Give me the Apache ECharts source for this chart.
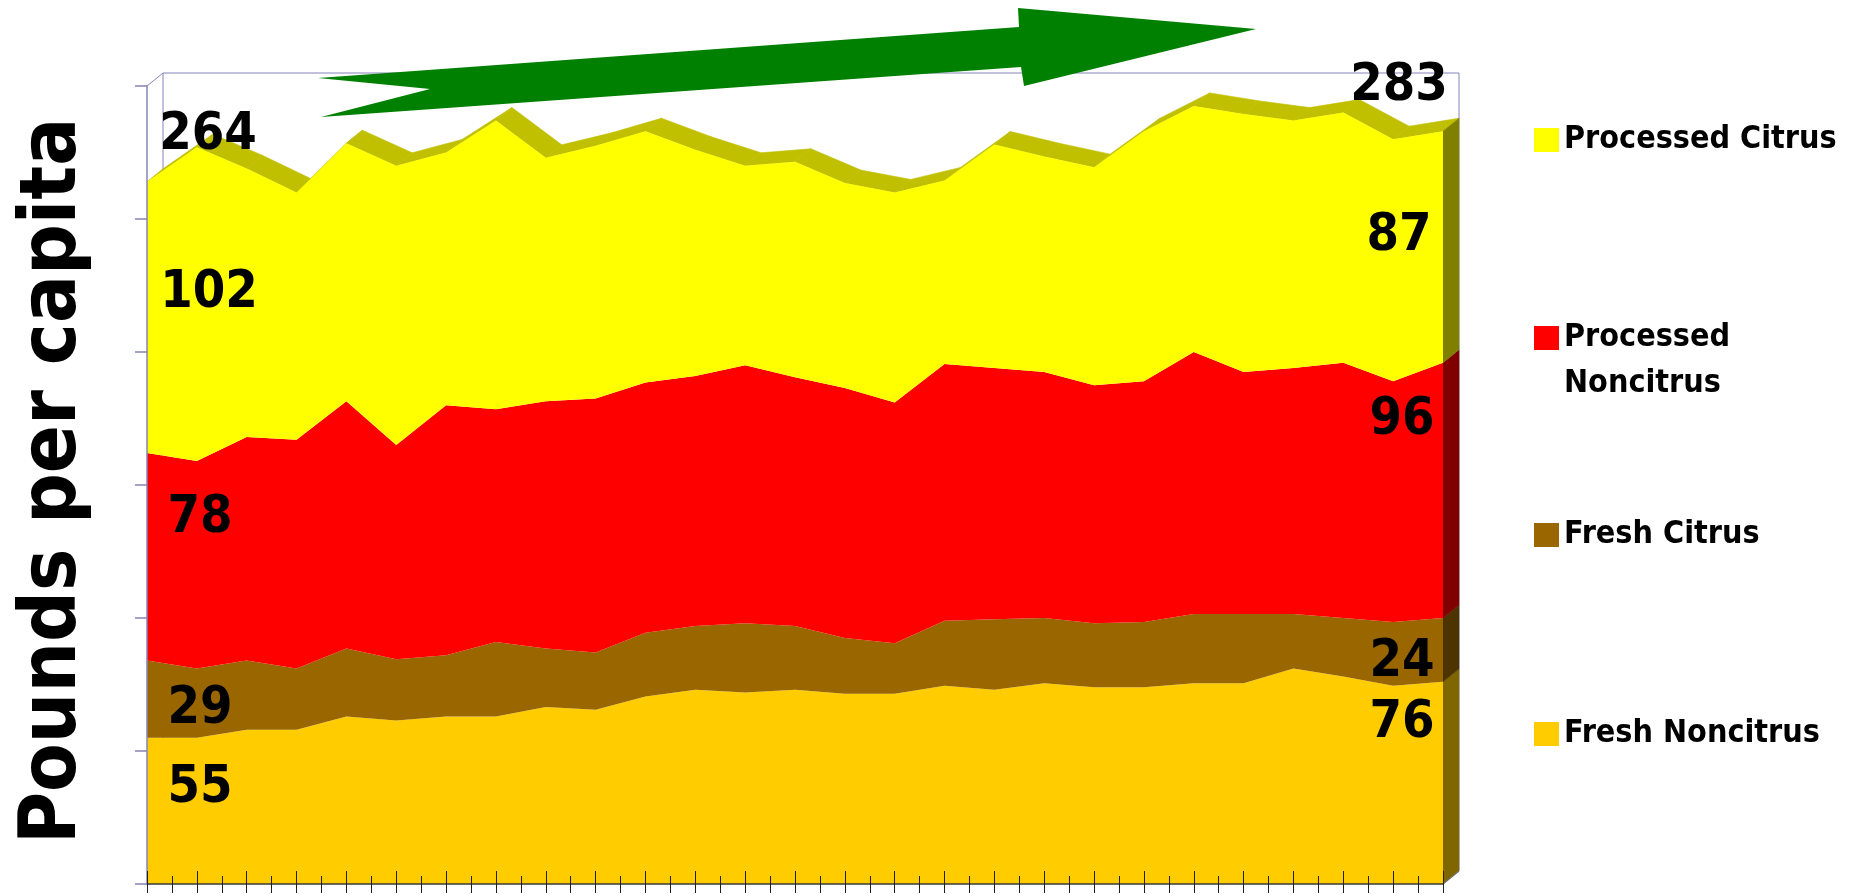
<!DOCTYPE html>
<html>
<head>
<meta charset="utf-8">
<script src="https://cdn.jsdelivr.net/npm/echarts@6/dist/echarts.min.js"></script>
<style>
html,body{margin:0;padding:0;background:#ffffff;}
#chart{width:1858px;height:894px;}
</style>
</head>
<body>
<div id="chart"></div>
<script>
// ---- Data ----
const categories = ['1976','1977','1978','1979','1980','1981','1982','1983','1984','1985','1986','1987','1988','1989',
                    '1990','1991','1992','1993','1994','1995','1996','1997','1998','1999','2000','2001','2002'];
const freshNoncitrus     = [55, 55, 58, 58, 63, 61.5, 63, 63, 66.5, 65.5, 70.5, 73, 72, 73, 71.5, 71.5, 74.5, 73, 75.5, 74, 74, 75.5, 75.5, 81, 78, 74.5, 76];
const freshCitrus        = [29, 26, 26, 23, 25.5, 23, 23, 28, 22, 21.5, 24, 24, 26, 24, 21, 19, 24.5, 26.5, 24.5, 24, 24.5, 26, 26, 20.5, 22, 24, 24];
const processedNoncitrus = [78, 78, 84, 86, 93, 80.5, 94, 87.5, 93, 95.5, 94, 94, 97, 93.5, 94, 90.5, 96.5, 94.5, 92.5, 89.5, 90.5, 98.5, 91, 92.5, 96, 90.5, 96];
const processedCitrus    = [102, 118, 101, 93, 97, 105, 95, 108.5, 91.5, 95, 94.5, 85, 75, 81, 77, 79, 69, 84, 81, 82, 94, 92.5, 97, 93, 94, 91, 87];
const seriesNames = ['Fresh Noncitrus', 'Fresh Citrus', 'Processed Noncitrus', 'Processed Citrus'];
const yTicks = {min: 0, max: 300, interval: 50};
const axisTitle = 'Pounds per capita';

// ---- Styling ----
const layers = [freshNoncitrus, freshCitrus, processedNoncitrus, processedCitrus];
const frontColors = ['#ffcc00', '#996600', '#ff0000', '#ffff00'];
const sideColors  = ['#806600', '#4d3300', '#800000', '#808000'];
const topColor = '#c0c000';
const frameColor = '#8484b8';
const DX = 16, DY = -13;   // 3D depth offset in pixels
const numFont = '"DejaVu Sans Condensed", "DejaVu Sans", sans-serif';

// cumulative levels
const n = categories.length;
const levels = [new Array(n).fill(0)];
layers.forEach((arr, k) => {
  levels.push(arr.map((v, i) => levels[k][i] + v));
});
const totals = levels[4];

// label layout: layer index (or 'total'), point ('first'/'last'), pixel offsets
const labelLayout = [
  {layer: 'total', at: 'first', dx: 61, dy: -46},
  {layer: 3, at: 'first', dx: 62, dy: -24},
  {layer: 2, at: 'first', dx: 53, dy: -38},
  {layer: 1, at: 'first', dx: 53, dy: 10},
  {layer: 0, at: 'first', dx: 53, dy: -22},
  {layer: 'total', at: 'last', dx: -44, dy: -45},
  {layer: 3, at: 'last', dx: -44, dy: -10},
  {layer: 2, at: 'last', dx: -41, dy: -70},
  {layer: 1, at: 'last', dx: -41, dy: 13},
  {layer: 0, at: 'last', dx: -41, dy: -59}
];

const chart = echarts.init(document.getElementById('chart'), null, {renderer: 'canvas'});

const areaSeries = seriesNames.map((name, k) => ({
  name: name,
  type: 'line',
  stack: 'total',
  xAxisIndex: 0, yAxisIndex: 0,
  data: layers[k],
  symbol: 'none',
  showSymbol: false,
  silent: true,
  lineStyle: {width: 0, color: frontColors[k]},
  itemStyle: {color: frontColors[k]},
  areaStyle: {color: frontColors[k], opacity: 1},
  z: 2
}));

const depthSeries = {
  type: 'custom',
  xAxisIndex: 0, yAxisIndex: 0,
  silent: true,
  clip: false,
  z: 1,
  data: categories.map((c, i) => [i, totals[i]]),
  renderItem: function (params, api) {
    const i = params.dataIndex;
    const kids = [];
    if (i < n - 1) {
      const a = api.coord([i, totals[i]]);
      const b = api.coord([i + 1, totals[i + 1]]);
      kids.push({
        type: 'polygon',
        shape: {points: [a, b, [b[0] + DX, b[1] + DY], [a[0] + DX, a[1] + DY]]},
        style: {fill: topColor, stroke: topColor, lineWidth: 0.6}
      });
    } else {
      for (let k = 0; k < 4; k++) {
        const p = api.coord([i, levels[k][i]]);
        const q = api.coord([i, levels[k + 1][i]]);
        kids.push({
          type: 'polygon',
          shape: {points: [p, q, [q[0] + DX, q[1] + DY], [p[0] + DX, p[1] + DY]]},
          style: {fill: sideColors[k], stroke: sideColors[k], lineWidth: 0.5}
        });
      }
      const o = api.coord([i, 0]);
      kids.push({
        type: 'line',
        shape: {x1: o[0], y1: o[1], x2: o[0] + DX, y2: o[1] + DY},
        style: {stroke: '#707070', lineWidth: 1.2}
      });
    }
    if (i === 0) {
      const t = api.coord([0, yTicks.max]);
      kids.push({
        type: 'line',
        shape: {x1: t[0], y1: t[1], x2: t[0] + DX, y2: t[1] + DY},
        style: {stroke: frameColor, lineWidth: 1}
      });
    }
    return {type: 'group', children: kids};
  }
};

const labelSeries = {
  type: 'custom',
  xAxisIndex: 0, yAxisIndex: 0,
  silent: true,
  clip: false,
  z: 20,
  data: labelLayout.map((l, j) => [j, 0]),
  renderItem: function (params, api) {
    const l = labelLayout[params.dataIndex];
    const idx = l.at === 'first' ? 0 : n - 1;
    let text, anchorY;
    if (l.layer === 'total') {
      text = String(Math.round(totals[idx]));
      anchorY = api.coord([idx, totals[idx]])[1];
    } else {
      text = String(Math.round(layers[l.layer][idx]));
      const lo = api.coord([idx, levels[l.layer][idx]])[1];
      const hi = api.coord([idx, levels[l.layer + 1][idx]])[1];
      anchorY = (lo + hi) / 2;
    }
    const x0 = api.coord([idx, 0])[0];
    return {
      type: 'text',
      x: x0 + l.dx,
      y: anchorY + l.dy,
      style: {
        text: text,
        fill: '#000000',
        fontSize: 52,
        fontWeight: 'bold',
        fontFamily: numFont,
        align: 'center',
        verticalAlign: 'middle'
      }
    };
  }
};

const legendCommon = {
  orient: 'vertical',
  left: 1534,
  padding: 0,
  itemGap: 0,
  itemWidth: 25,
  itemHeight: 24,
  icon: 'rect',
  selectedMode: false,
  textStyle: {fontFamily: numFont, fontWeight: 'bold', fontSize: 32, lineHeight: 32, color: '#000000'}
};

const option = {
  animation: false,
  backgroundColor: '#ffffff',
  grid: [
    {left: 147, right: 415, top: 86, bottom: 10, containLabel: false},
    {left: 163, right: 399, top: 73, bottom: 23, containLabel: false, show: true,
     borderColor: frameColor, borderWidth: 1, backgroundColor: 'transparent'}
  ],
  xAxis: [
    {type: 'category', gridIndex: 0, data: categories, boundaryGap: false, position: 'bottom', z: 10,
     axisLine: {show: true, lineStyle: {color: '#3a3a3a', width: 1.5}},
     axisTick: {show: true, inside: true, length: 13, interval: 0, lineStyle: {color: '#202020', width: 1}},
     axisLabel: {show: false}, splitLine: {show: false}},
    {type: 'value', gridIndex: 0, min: 0, max: n - 1, interval: 0.5, position: 'bottom', z: 10,
     axisLine: {show: false},
     axisTick: {show: true, inside: false, length: 9, lineStyle: {color: '#202020', width: 1}},
     axisLabel: {show: false}, splitLine: {show: false}},
    {type: 'value', gridIndex: 0, min: 0, max: n - 1, interval: 0.5, position: 'bottom', z: 10,
     axisLine: {show: false},
     axisTick: {show: true, inside: true, length: 8, lineStyle: {color: '#202020', width: 1}},
     axisLabel: {show: false}, splitLine: {show: false}},
    {type: 'category', gridIndex: 1, data: categories, boundaryGap: false, show: false}
  ],
  yAxis: [
    {type: 'value', gridIndex: 0, min: yTicks.min, max: yTicks.max, interval: yTicks.interval, z: 10,
     axisLine: {show: true, lineStyle: {color: frameColor, width: 1.5}},
     axisTick: {show: true, length: 12, lineStyle: {color: frameColor, width: 1.5}},
     axisLabel: {show: false}, splitLine: {show: false}},
    {type: 'value', gridIndex: 1, min: yTicks.min, max: yTicks.max, show: false, splitLine: {show: false}}
  ],
  legend: [
    Object.assign({}, legendCommon, {data: ['Processed Citrus'], top: 124}),
    Object.assign({}, legendCommon, {data: ['Processed Noncitrus'], top: 269,
      formatter: function () { return ' \nProcessed\nNoncitrus'; },
      textStyle: Object.assign({}, legendCommon.textStyle, {lineHeight: 46})}),
    Object.assign({}, legendCommon, {data: ['Fresh Citrus'], top: 519}),
    Object.assign({}, legendCommon, {data: ['Fresh Noncitrus'], top: 718})
  ],
  graphic: [
    {type: 'polygon', z: 100, silent: true,
     shape: {points: [[318, 78], [1019, 27], [1018, 8], [1256, 29], [1024, 86], [1021, 67], [321, 117], [430, 89]]},
     style: {fill: '#008000'}},
    {type: 'text', z: 100, silent: true, x: 54, y: 481, rotation: Math.PI / 2,
     style: {text: axisTitle, fill: '#000000', fontSize: 79, fontWeight: 'bold', fontFamily: numFont,
             align: 'center', verticalAlign: 'middle'}}
  ],
  series: areaSeries.concat([depthSeries, labelSeries])
};

chart.setOption(option);
</script>
</body>
</html>
